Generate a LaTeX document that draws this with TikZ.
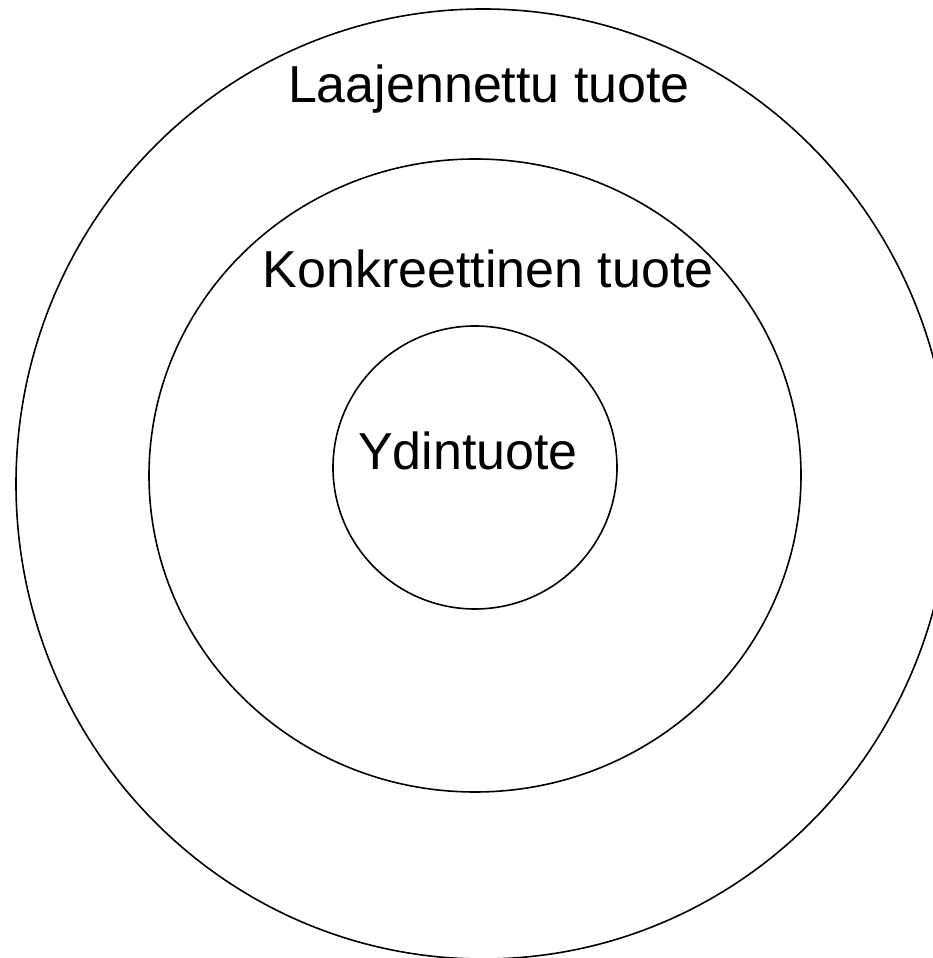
\documentclass[tikz,border=0pt]{standalone}
\usepackage{fontspec}
\setmainfont{Liberation Sans}
\usetikzlibrary{shapes.geometric}

\tikzset{
  ring/.style={ellipse, draw, line width=1.6pt, inner sep=0pt},
  label/.style={anchor=base, font=\fontsize{52}{60}\selectfont}
}

\begin{document}
\begin{tikzpicture}[x=1pt, y=1pt]
    \useasboundingbox (0,0) rectangle (933,958);

    % Kehät
    \node[ring, minimum width=934, minimum height=950] (outer) at (483, 474) {};
    \node[ring, minimum width=652, minimum height=633] (middle) at (475, 482.5) {};
    \node[ring, minimum width=284, minimum height=283] (inner) at (475, 490.5) {};

    % Tekstit
    \node[label] (laaj) at (489, 855) {Laajennettu tuote};
    \node[label] (konk) at (488, 670.7) {Konkreettinen tuote};
    \node[label] (ydin) at (468, 488) {Ydintuote};

  \end{tikzpicture}
\end{document}
